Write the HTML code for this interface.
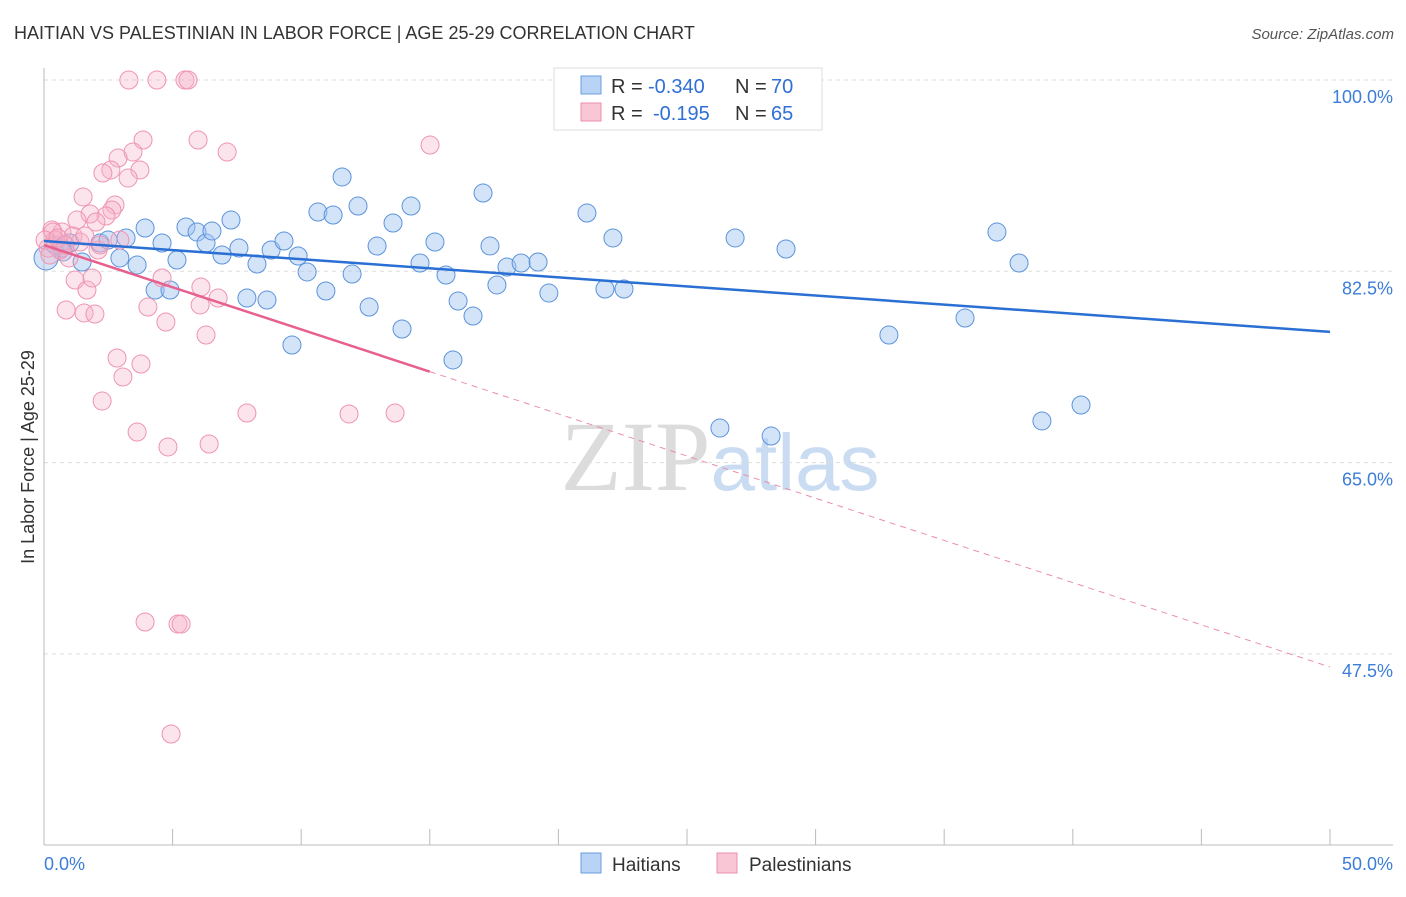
<!DOCTYPE html>
<html><head><meta charset="utf-8">
<style>
body{margin:0;background:#fff;font-family:"Liberation Sans",sans-serif;}
svg text{font-family:"Liberation Sans",sans-serif;}
</style></head>
<body>
<svg id="chart" width="1406" height="892" xmlns="http://www.w3.org/2000/svg">
<text x="14" y="39" font-size="18" fill="#333">HAITIAN VS PALESTINIAN IN LABOR FORCE | AGE 25-29 CORRELATION CHART</text>
<text x="1394" y="39" font-size="15" fill="#555" text-anchor="end" font-style="italic">Source: ZipAtlas.com</text>
<text x="720" y="490" font-size="100" text-anchor="middle"><tspan fill="#dcdcdc" font-family="Liberation Serif">ZIP</tspan><tspan fill="#c9dcf2" font-size="80">atlas</tspan></text>
<g id="grid"></g>
<g id="axes"></g>
<g id="pts"></g>
<g id="trend"></g>
<text transform="translate(34,457) rotate(-90)" font-size="18" fill="#333" text-anchor="middle">In Labor Force | Age 25-29</text>
<g>
<rect x="554" y="68" width="268" height="62" fill="#fff" stroke="#ddd"/>
<rect x="581" y="76" width="20" height="18" fill="#b8d3f5" stroke="#6a9ee0"/>
<rect x="581" y="103" width="20" height="18" fill="#f9c6d5" stroke="#ec8fae"/>
<text x="611" y="93" font-size="20" fill="#333">R =</text>
<text x="648" y="93" font-size="20" fill="#2f6fd6">-0.340</text>
<text x="735" y="93" font-size="20" fill="#333">N =</text>
<text x="771" y="93" font-size="20" fill="#2f6fd6">70</text>
<text x="611" y="120" font-size="20" fill="#333">R =</text>
<text x="653" y="120" font-size="20" fill="#2f6fd6">-0.195</text>
<text x="735" y="120" font-size="20" fill="#333">N =</text>
<text x="771" y="120" font-size="20" fill="#2f6fd6">65</text>
</g>
<g>
<rect x="581" y="853" width="20" height="20" fill="#b8d3f5" stroke="#6a9ee0"/>
<text x="612" y="871" font-size="19" fill="#333">Haitians</text>
<rect x="717" y="853" width="20" height="20" fill="#f9c6d5" stroke="#ec8fae"/>
<text x="749" y="871" font-size="19" fill="#333">Palestinians</text>
</g>
</svg>
<script>
const yTicks=[100,82.5,65,47.5];
const yTickLabels=["100.0%","82.5%","65.0%","47.5%"];
const xTickLabels=["0.0%","50.0%"];
const haitianX=[0.08,0.43,0.70,1.01,1.48,2.18,2.49,2.95,3.19,3.62,3.93,4.32,4.59,4.90,5.17,5.52,5.95,6.30,6.53,6.92,7.27,7.58,7.89,8.28,8.67,8.83,9.33,9.64,9.88,10.23,10.65,10.96,11.24,11.59,11.98,12.21,12.64,12.95,13.57,13.92,14.27,14.62,15.20,15.63,15.90,16.10,16.68,17.07,17.34,17.61,18.00,18.55,19.21,19.63,21.11,21.81,22.12,22.55,26.28,26.87,28.27,28.85,29.16,32.85,35.81,37.05,37.91,38.80,40.32,0.74];
const haitianY=[83.72,84.91,84.63,85.09,83.35,85.09,85.36,83.72,85.55,83.08,86.46,80.79,85.09,80.79,83.53,86.55,86.09,85.09,86.19,83.99,87.19,84.63,80.06,83.17,79.87,84.45,85.27,75.76,83.90,82.44,87.92,80.70,87.65,91.13,82.25,88.47,79.23,84.81,86.92,77.22,88.47,83.26,85.18,82.16,74.39,79.78,78.41,89.66,84.81,81.25,82.89,83.26,83.35,80.51,87.83,80.88,85.55,80.88,68.16,85.55,67.43,84.54,100,76.67,78.23,86.09,83.26,68.81,70.27,84.27];
const palX=[3.30,4.39,5.48,5.60,3.85,5.99,7.12,15.01,3.46,2.88,3.73,2.60,2.29,3.27,1.52,2.76,2.64,2.41,1.79,1.28,2.02,0.31,0.70,1.13,1.40,2.10,0.43,0.16,0.62,0.97,2.95,0.35,1.21,1.67,1.87,0.86,1.56,1.98,4.59,4.04,4.74,6.10,6.07,6.77,6.30,2.84,3.77,3.07,2.26,3.62,4.82,6.42,7.89,11.86,13.65,3.93,5.21,5.33,4.94,0.04,0.23,0.54,0.82,1.59,2.18];
const palY=[100,100,100,100,94.51,94.51,93.41,94.05,93.41,92.86,91.77,91.77,91.49,91.03,89.30,88.57,88.11,87.56,87.74,87.19,87.01,86.28,86.09,85.73,85.18,84.45,85.36,84.63,84.45,83.72,85.36,86.09,81.70,80.79,81.89,78.96,78.69,78.59,81.89,79.23,77.86,81.06,79.42,80.06,76.67,74.57,74.02,72.83,70.63,67.80,66.43,66.70,69.54,69.45,69.54,50.42,50.23,50.23,40.17,85.36,83.99,85.55,84.91,85.73,84.91];
const blueTrend=[85.27,76.96];
const pinkTrend=[84.9,46.3];
const pinkSolidEnd=15;
const NS="http://www.w3.org/2000/svg";
function sx(v){return 44+v/50*1286;}
function sy(v){return 80+(100-v)/17.5*191.3;}
function mk(tag,attrs,parent){const e=document.createElementNS(NS,tag);for(const k in attrs)e.setAttribute(k,attrs[k]);parent.appendChild(e);return e;}
const grid=document.getElementById('grid'),axes=document.getElementById('axes'),pts=document.getElementById('pts'),tr=document.getElementById('trend');
yTicks.forEach((t,i)=>{
 const l=mk('line',{x1:44,x2:1393,y1:sy(t),y2:sy(t),stroke:'#ddd','stroke-dasharray':'4,4'},grid);
 
 
 const tx=mk('text',{x:1393,y:sy(t)+23,'font-size':18,fill:'#3b7dd8','text-anchor':'end'},grid);
 tx.textContent=yTickLabels[i];
 
 
});
const ax=mk('line',{x1:44,x2:44,y1:68,y2:845,stroke:'#bbb'},axes);


const bx=mk('line',{x1:44,x2:1393,y1:845,y2:845,stroke:'#bbb'},axes);


for(let v=0;v<=50;v+=5){
 const t=mk('line',{x1:sx(v),x2:sx(v),y1:829,y2:845,stroke:'#bbb'},axes);
 
 
}
[[0,'start'],[50,'end']].forEach((p,i)=>{
 const tx=mk('text',{x:i?1393:44,y:870,'font-size':18,fill:'#3b7dd8','text-anchor':p[1]},axes);
 tx.textContent=xTickLabels[i];
 
 
});
haitianX.forEach((x,i)=>{
 const c=mk('circle',{cx:sx(x),cy:sy(haitianY[i]),r:i==0?12:9,fill:'rgba(160,196,240,0.45)',stroke:'#5b93dc','stroke-width':1},pts);
 
 
});
palX.forEach((x,i)=>{
 const c=mk('circle',{cx:sx(x),cy:sy(palY[i]),r:9,fill:'rgba(246,178,200,0.35)',stroke:'#ee94b2','stroke-width':1},pts);
 
 
});
const bl=mk('line',{x1:sx(0),y1:sy(blueTrend[0]),x2:sx(50),y2:sy(blueTrend[1]),stroke:'#2a6fd4','stroke-width':2.5},tr);


const pm=pinkTrend[0]+(pinkTrend[1]-pinkTrend[0])*pinkSolidEnd/50;
const pl=mk('line',{x1:sx(0),y1:sy(pinkTrend[0]),x2:sx(pinkSolidEnd),y2:sy(pm),stroke:'#e8608e','stroke-width':2.5},tr);


const pd=mk('line',{x1:sx(pinkSolidEnd),y1:sy(pm),x2:sx(50),y2:sy(pinkTrend[1]),stroke:'#eb8eae','stroke-width':1,'stroke-dasharray':'6,5'},tr);


</script>
</body></html>
